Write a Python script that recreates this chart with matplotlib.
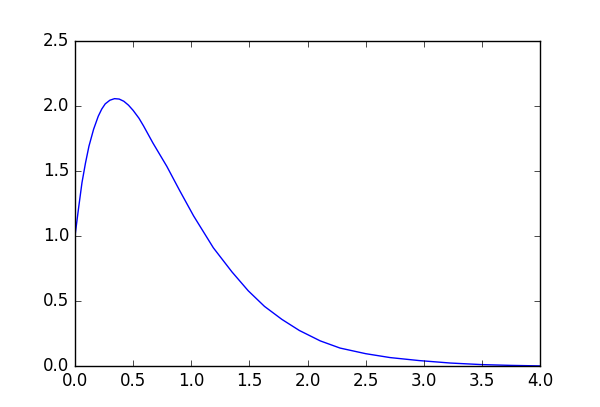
import matplotlib
matplotlib.use("Agg")
import matplotlib.pyplot as plt

plt.style.use("classic")

# values
x = [0.0, 0.03, 0.06, 0.09, 0.12, 0.16, 0.20, 0.23, 0.26, 0.30, 0.34,
     0.38, 0.42, 0.46, 0.50, 0.55, 0.59, 0.67, 0.79, 0.90, 1.02, 1.19,
     1.35, 1.49, 1.63, 1.78, 1.93, 2.11, 2.28, 2.50, 2.71, 2.96, 3.23,
     3.50, 3.75, 4.0]
y = [1.0, 1.21, 1.41, 1.56, 1.69, 1.82, 1.92, 1.975, 2.015, 2.043, 2.055,
     2.052, 2.035, 2.005, 1.965, 1.905, 1.845, 1.715, 1.535, 1.35, 1.155,
     0.91, 0.725, 0.58, 0.46, 0.36, 0.275, 0.195, 0.14, 0.097, 0.067,
     0.044, 0.025, 0.013, 0.007, 0.003]

fig = plt.figure(figsize=(6.0, 4.07), dpi=100)
ax = fig.add_subplot(111)
ax.plot(x, y, color="b", lw=1)
ax.set_xlim(0, 4)
ax.set_ylim(0, 2.5)
ax.set_xticks([0, 0.5, 1, 1.5, 2, 2.5, 3, 3.5, 4])
ax.set_yticks([0, 0.5, 1, 1.5, 2, 2.5])

fig.savefig("out.png", dpi=100)
